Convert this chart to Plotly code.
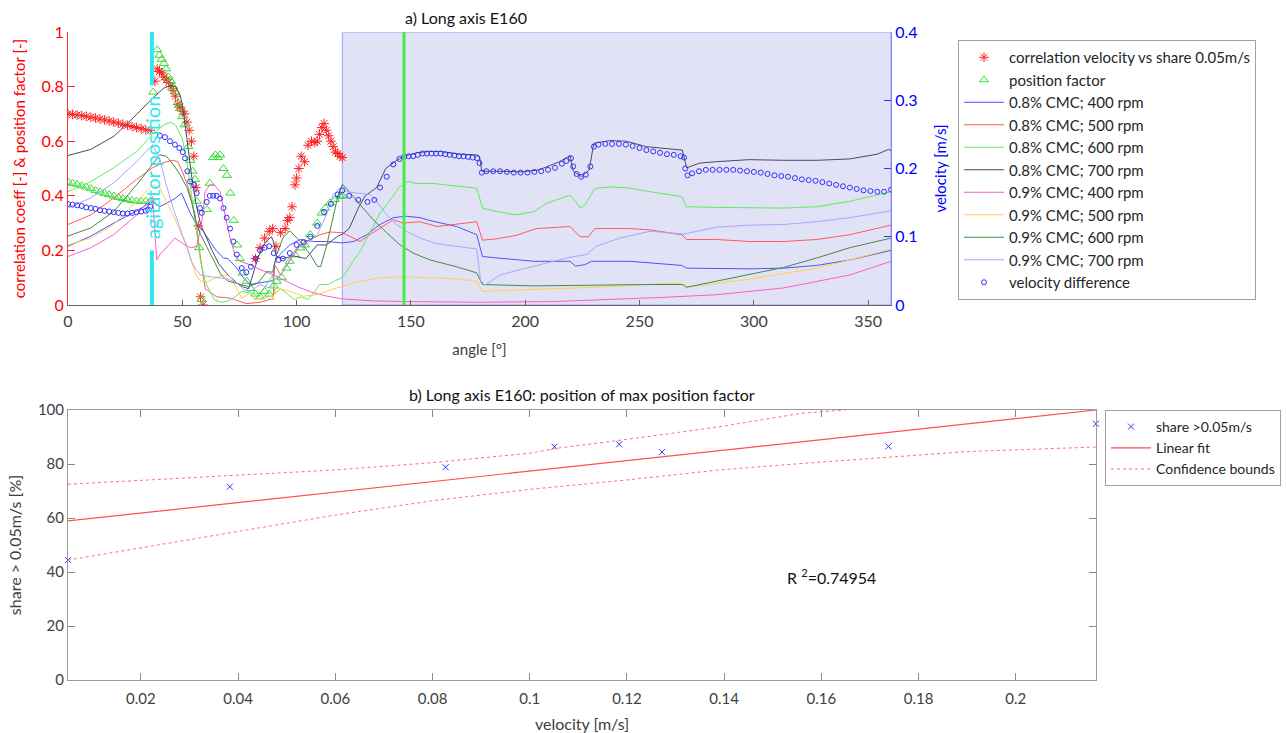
import plotly.graph_objects as go

W, H = 1286, 733
FONT = "Lato"

# ---------------- panel a) Long axis E160 ----------------
agitator_angle = 36.7
max_pos_angle = 147
region_start, region_end = 120, 360
agitator_gap = (0.2, 0.805)

corr_angle = [0, 2, 4, 6, 8, 10, 12, 14, 16, 18, 20, 22, 24, 26, 28, 30, 32, 34, 36,
              38, 39, 40, 41, 42, 43, 44, 45, 46, 47, 48, 49, 50, 51, 52, 53, 54, 55, 56, 57, 58, 59,
              82, 84, 86, 88, 89.5, 91, 93, 95, 96, 97, 98, 99.3, 100, 101, 102, 103.5, 105, 106.5,
              108, 109, 110, 111, 112, 113, 114, 115, 116, 117, 118, 119, 120]
corr_value = [0.70, 0.698, 0.696, 0.694, 0.691, 0.688, 0.685, 0.681, 0.678, 0.674, 0.67, 0.666,
              0.662, 0.658, 0.654, 0.65, 0.646, 0.642, 0.64,
              0.82, 0.865, 0.855, 0.85, 0.835, 0.825, 0.815, 0.80, 0.785, 0.765, 0.735, 0.725, 0.71,
              0.70, 0.67, 0.64, 0.60, 0.545, 0.43, 0.29, 0.03, 0.0,
              0.17, 0.21, 0.245, 0.27, 0.28, 0.215, 0.265, 0.28, 0.31, 0.32, 0.36, 0.44, 0.465, 0.5,
              0.545, 0.525, 0.585, 0.6, 0.595, 0.6, 0.625, 0.65, 0.665, 0.64, 0.62, 0.60, 0.58, 0.56,
              0.555, 0.545, 0.54]

pos_angle = [0, 2, 4, 6, 8, 10, 12, 14, 16, 18, 20, 22, 24, 26, 28, 30, 32, 34, 36,
             37.3, 39, 40, 41, 42, 43, 44, 45, 46, 47, 48, 49, 50, 51, 52.6, 53.5, 54.5, 55.6, 56.3,
             57.4, 58.5, 60.7, 62, 63.5, 64.5, 65.5, 66.5, 68, 69.5, 71, 72.5, 74, 75.2, 76.4, 78.2,
             80, 82, 84, 86, 88, 90, 91.3, 93.5, 95.6, 97, 99.3, 101.6, 103.7, 106, 109, 111, 112.5,
             114.6, 116.8, 119, 120]
pos_value = [0.45, 0.446, 0.442, 0.437, 0.432, 0.426, 0.42, 0.414, 0.409, 0.404, 0.399, 0.394,
             0.39, 0.386, 0.383, 0.381, 0.38, 0.38, 0.38,
             0.78, 0.935, 0.915, 0.9, 0.885, 0.865, 0.835, 0.82, 0.80, 0.78, 0.74, 0.72, 0.69, 0.66,
             0.58, 0.53, 0.49, 0.46, 0.38, 0.21, 0.02, 0.35, 0.446, 0.54, 0.55, 0.54, 0.55, 0.50,
             0.475, 0.41, 0.31, 0.22, 0.17, 0.117, 0.087, 0.06, 0.04, 0.03, 0.05, 0.04, 0.07, 0.087,
             0.10, 0.135, 0.16, 0.184, 0.209, 0.22, 0.258, 0.30, 0.337, 0.355, 0.374, 0.386, 0.398,
             0.40]

# velocities [m/s] of the eight runs
a_08_400 = [0, 10, 20, 30, 37, 40, 43, 46.8, 49.7, 51.2, 53.4, 56.3, 59.2, 62.1, 65, 68, 70, 73.8,
            76.7, 79.6, 84, 88.4, 89.8, 90.5, 92.7, 97, 101.6, 107.4, 113.2, 120, 125, 130.7, 136.5,
            142.3, 148, 154, 158, 170, 178.8, 181.3, 187.5, 204, 219.6, 222, 226, 229, 246, 254.6,
            268.4, 270.6, 283.7, 298, 313, 327.6, 342, 360]
v_08_400 = [0.086, 0.101, 0.12, 0.138, 0.152, 0.144, 0.149, 0.156, 0.164, 0.152, 0.135, 0.118,
            0.108, 0.093, 0.079, 0.069, 0.068, 0.054, 0.04, 0.03, 0.032, 0.035, 0.036, 0.064, 0.074,
            0.088, 0.096, 0.093, 0.093, 0.091, 0.093, 0.103, 0.118, 0.128, 0.13, 0.128, 0.124,
            0.115, 0.103, 0.071, 0.069, 0.064, 0.064, 0.057, 0.059, 0.064, 0.064, 0.062, 0.058,
            0.054, 0.053, 0.053, 0.054, 0.058, 0.066, 0.08]

a_08_500 = [0, 10, 20, 30, 37, 42, 46, 48, 50, 52.6, 55.6, 57.7, 60, 65, 71, 75, 78, 84, 88.4, 89.8,
            90.2, 93, 97, 101.6, 106, 110.3, 114.6, 120, 123, 127.7, 132, 136.5, 142.3, 146.6, 154,
            161.3, 170, 178.8, 181.3, 187.5, 196, 205, 219.6, 224, 227.6, 230.5, 246, 254.6, 268.4,
            270.6, 283.7, 298, 313, 327.6, 342, 360]
v_08_500 = [0.118, 0.132, 0.157, 0.184, 0.201, 0.209, 0.212, 0.21, 0.196, 0.172, 0.132, 0.076,
            0.024, 0.012, 0.01, 0.006, 0.002, 0.004, 0.008, 0.008, 0.06, 0.044, 0.064, 0.088, 0.096,
            0.103, 0.107, 0.106, 0.101, 0.093, 0.103, 0.113, 0.125, 0.12, 0.122, 0.115, 0.118,
            0.122, 0.095, 0.097, 0.102, 0.112, 0.115, 0.1, 0.1, 0.112, 0.112, 0.11, 0.103, 0.096,
            0.096, 0.093, 0.093, 0.096, 0.103, 0.117]

a_08_600 = [0, 10, 20, 30, 37, 42, 45, 47, 50, 52, 54, 56, 58, 60, 62, 64, 67, 70, 73, 76, 79, 82,
            85, 88, 89.5, 90.5, 93, 96, 99, 102, 105, 108, 110, 114, 117, 120, 123, 125.5, 128, 132,
            136.5, 141, 145, 148.7, 152.5, 160, 165.6, 178.8, 181.3, 187.5, 196, 204, 209.4, 219.6,
            222, 224, 226, 230.5, 238.5, 246, 254.6, 268.4, 270.6, 283.7, 313, 327.6, 342, 360]
v_08_600 = [0.166, 0.181, 0.201, 0.225, 0.25, 0.264, 0.268, 0.264, 0.244, 0.21, 0.162, 0.112,
            0.064, 0.035, 0.02, 0.008, 0.004, 0.006, 0.012, 0.02, 0.018, 0.016, 0.02, 0.036, 0.044,
            0.016, 0.024, 0.016, 0.008, 0.012, 0.008, 0.02, 0.03, 0.03, 0.036, 0.04, 0.056, 0.068,
            0.08, 0.105, 0.135, 0.154, 0.173, 0.181, 0.178, 0.178, 0.176, 0.171, 0.142, 0.137,
            0.132, 0.137, 0.149, 0.161, 0.152, 0.142, 0.146, 0.171, 0.173, 0.171, 0.166, 0.159,
            0.144, 0.143, 0.142, 0.144, 0.152, 0.166]

a_08_700 = [0, 10, 20, 30, 37, 42, 45, 47, 49, 50, 52, 54, 56, 58, 60, 63, 66, 70, 74, 77, 79, 81,
            83, 85, 87, 89, 90, 91, 94, 98.6, 104, 109, 113, 117.6, 120, 123, 127, 130, 135, 139,
            143.8, 147, 152.5, 158, 163, 171, 178.8, 180, 181, 189, 198, 206, 215, 219.6, 221,
            224.7, 228, 230, 237, 244, 253, 259, 268.7, 270.6, 276.4, 283.7, 298, 313, 327.6, 342,
            354, 359, 360]
v_08_700 = [0.219, 0.228, 0.247, 0.279, 0.303, 0.318, 0.322, 0.32, 0.308, 0.294, 0.244, 0.191,
            0.148, 0.118, 0.103, 0.08, 0.06, 0.044, 0.032, 0.026, 0.024, 0.048, 0.068, 0.084,
            0.094, 0.1, 0.092, 0.072, 0.068, 0.072, 0.068, 0.088, 0.088, 0.1, 0.104, 0.112, 0.142,
            0.16, 0.172, 0.2, 0.212, 0.218, 0.223, 0.225, 0.225, 0.221, 0.22, 0.218, 0.196, 0.196,
            0.195, 0.198, 0.21, 0.219, 0.196, 0.188, 0.198, 0.237, 0.241, 0.24, 0.232, 0.23, 0.227,
            0.201, 0.208, 0.21, 0.213, 0.212, 0.212, 0.214, 0.221, 0.228, 0.226]

a_09_400 = [0, 10, 20, 30, 37, 38.8, 40.2, 43, 46.8, 49, 52, 54, 56.3, 58.5, 60, 62, 64, 66.5, 68.7,
            70.9, 73, 75.2, 79.6, 84, 90, 95.6, 101.6, 107.4, 113.2, 120, 133.7, 148, 180, 212,
            240, 259, 283.7, 313, 342, 360]
v_09_400 = [0.071, 0.084, 0.103, 0.132, 0.159, 0.066, 0.074, 0.084, 0.098, 0.093, 0.086, 0.084,
            0.086, 0.122, 0.166, 0.176, 0.176, 0.166, 0.132, 0.098, 0.074, 0.064, 0.059, 0.052,
            0.044, 0.035, 0.025, 0.018, 0.013, 0.009, 0.006, 0.005, 0.004, 0.005, 0.008, 0.011,
            0.015, 0.025, 0.044, 0.064]

a_09_500 = [0, 10, 20, 30, 37, 40, 43, 46, 49, 52, 54, 56, 58, 61, 65, 68, 71, 73.8, 76, 79, 82, 86,
            89.5, 91, 97, 103, 109, 114.6, 120, 127.7, 136.5, 147, 158.4, 171, 179, 181, 198,
            219.6, 230, 259, 268.7, 270.6, 283.7, 298, 313, 327.6, 342, 360]
v_09_500 = [0.088, 0.098, 0.118, 0.152, 0.176, 0.172, 0.152, 0.132, 0.108, 0.088, 0.064, 0.044,
            0.035, 0.034, 0.04, 0.044, 0.042, 0.025, 0.01, 0.016, 0.008, 0.012, 0.008, 0.025, 0.02,
            0.013, 0.015, 0.022, 0.027, 0.035, 0.04, 0.041, 0.04, 0.038, 0.035, 0.02, 0.022, 0.024,
            0.026, 0.031, 0.032, 0.026, 0.032, 0.038, 0.046, 0.054, 0.066, 0.082]

a_09_600 = [0, 10, 20, 30, 37, 40, 43, 46, 49, 52, 54, 56, 58, 61, 64, 67, 70, 73, 76, 79, 83, 87,
            89.5, 91.3, 94, 97, 101.6, 106, 109, 110.5, 113.2, 116, 118.2, 120, 123, 127.7, 133.5,
            139.4, 145.2, 151, 158.4, 170, 178.8, 181.3, 204, 254.6, 268.7, 270.6, 283.7, 298, 313,
            327.6, 342, 360]
v_09_600 = [0.101, 0.113, 0.137, 0.176, 0.206, 0.22, 0.218, 0.206, 0.191, 0.172, 0.152, 0.122,
            0.103, 0.084, 0.064, 0.044, 0.035, 0.032, 0.03, 0.027, 0.032, 0.049, 0.048, 0.074,
            0.098, 0.109, 0.093, 0.074, 0.057, 0.056, 0.088, 0.128, 0.162, 0.177, 0.166, 0.147,
            0.125, 0.106, 0.088, 0.076, 0.066, 0.056, 0.047, 0.03, 0.028, 0.03, 0.03, 0.026, 0.035,
            0.044, 0.055, 0.069, 0.084, 0.098]

a_09_700 = [0, 10, 20, 30, 37, 40, 43, 46, 49, 52, 54, 56, 58, 61, 66, 70, 74, 77, 79.6, 84, 88, 90,
            94, 100, 104, 109, 113, 116, 119, 122, 126.3, 132, 135, 139.4, 143.8, 148, 154, 161,
            178.8, 180.5, 182.3, 189, 198, 206.4, 219.6, 227, 231, 241.4, 254.6, 269.4, 283.7, 298,
            313, 327.6, 342, 360]
v_09_700 = [0.142, 0.157, 0.179, 0.21, 0.235, 0.215, 0.176, 0.142, 0.113, 0.084, 0.064, 0.052,
            0.044, 0.042, 0.04, 0.038, 0.032, 0.022, 0.02, 0.03, 0.025, 0.035, 0.049, 0.084, 0.088,
            0.103, 0.132, 0.162, 0.172, 0.166, 0.164, 0.162, 0.152, 0.132, 0.118, 0.108, 0.098,
            0.09, 0.082, 0.036, 0.029, 0.044, 0.052, 0.059, 0.07, 0.074, 0.086, 0.098, 0.108,
            0.104, 0.114, 0.117, 0.118, 0.122, 0.128, 0.138]

diff_angle = [0, 2, 4, 6, 8, 10, 12, 14, 16, 18, 20, 22, 24, 26, 28, 30, 32, 34, 35, 36,
              40.2, 42.4, 44.6, 46.8, 48.7, 50.2, 51.2, 52.2, 53.4, 55.1, 56.3, 57.7, 58.5, 60.7, 62,
              63.5, 65, 66.5, 68, 69.4, 70.9, 72.3, 73.8, 76, 78, 80, 82, 84, 86, 88, 90, 92, 94, 97,
              100, 103, 106, 109, 112, 115, 118, 120, 123, 127, 131, 134, 136.5, 139.4, 142.3, 145,
              147, 149, 151, 153, 155, 157, 159, 161, 163, 165, 167, 169, 171, 173, 175, 177, 179,
              180, 181, 183, 186, 189, 192, 195, 198, 201, 204, 207, 210, 213, 216, 218, 220, 221,
              222.5, 224.5, 226.5, 228.5, 230, 232, 235, 238, 241, 244, 247, 250, 253, 256, 259, 262,
              265, 268, 269.5, 270, 271, 273, 276, 279, 282, 285, 288, 291, 294, 297, 300, 303, 306,
              309, 312, 315, 318, 321, 324, 327, 330, 333, 336, 339, 342, 345, 348, 351, 354, 357, 360]
diff_value = [0.148, 0.147, 0.146, 0.145, 0.143, 0.142, 0.141, 0.139, 0.138, 0.137, 0.136, 0.135,
              0.134, 0.134, 0.135, 0.136, 0.137, 0.138, 0.14, 0.144,
              0.248, 0.246, 0.24, 0.235, 0.23, 0.224, 0.215, 0.196, 0.181, 0.176, 0.164, 0.142,
              0.135, 0.151, 0.16, 0.16, 0.16, 0.156, 0.142, 0.128, 0.112, 0.093, 0.074, 0.054,
              0.048, 0.056, 0.068, 0.08, 0.084, 0.086, 0.076, 0.066, 0.068, 0.076, 0.088, 0.092,
              0.1, 0.116, 0.136, 0.148, 0.162, 0.168, 0.16, 0.154, 0.151, 0.154, 0.172, 0.188,
              0.206, 0.214, 0.217, 0.218, 0.218, 0.22, 0.222, 0.222, 0.222, 0.222, 0.222, 0.221,
              0.22, 0.219, 0.218, 0.218, 0.217, 0.216, 0.215, 0.208, 0.194, 0.196, 0.196, 0.196,
              0.195, 0.194, 0.194, 0.194, 0.195, 0.196, 0.198, 0.201, 0.207, 0.211, 0.215, 0.203,
              0.192, 0.188, 0.191, 0.203, 0.232, 0.235, 0.236, 0.236, 0.236, 0.235, 0.233, 0.23,
              0.227, 0.225, 0.223, 0.221, 0.22, 0.218, 0.216, 0.2, 0.19, 0.193, 0.196, 0.198, 0.198,
              0.198, 0.198, 0.198, 0.197, 0.196, 0.195, 0.194, 0.192, 0.19, 0.189, 0.188, 0.186,
              0.184, 0.183, 0.182, 0.18, 0.178, 0.176, 0.174, 0.172, 0.17, 0.168, 0.167, 0.166,
              0.166, 0.169]

runs = [
    ("0.8% CMC; 400 rpm", a_08_400, v_08_400, "#5050ff"),
    ("0.8% CMC; 500 rpm", a_08_500, v_08_500, "#ff5a5a"),
    ("0.8% CMC; 600 rpm", a_08_600, v_08_600, "#5aee5a"),
    ("0.8% CMC; 700 rpm", a_08_700, v_08_700, "#4a4a66"),
    ("0.9% CMC; 400 rpm", a_09_400, v_09_400, "#ff5acb"),
    ("0.9% CMC; 500 rpm", a_09_500, v_09_500, "#ffd050"),
    ("0.9% CMC; 600 rpm", a_09_600, v_09_600, "#448a44"),
    ("0.9% CMC; 700 rpm", a_09_700, v_09_700, "#a4a8ff"),
]

# ---------------- panel b) regression ----------------
share_velocity = [0.005, 0.0383, 0.0827, 0.1051, 0.1184, 0.1272, 0.1738, 0.2165]
share_percent = [44.4, 71.6, 78.8, 86.4, 87.3, 84.4, 86.5, 94.9]
fit_x = [0.005, 0.2165]
fit_y = [58.9, 100]
upper_x = [0.005, 0.04, 0.06, 0.08, 0.1, 0.1055, 0.122, 0.139, 0.156, 0.165]
upper_y = [72.5, 76, 77.8, 80.5, 84, 85.8, 89.6, 93.8, 98.8, 100]
lower_x = [0.005, 0.04, 0.06, 0.08, 0.1, 0.12, 0.139, 0.156, 0.173, 0.19, 0.2165]
lower_y = [44.4, 54.9, 61.1, 66.4, 70.6, 74.1, 77.8, 80.2, 82.5, 84.6, 86.3]
r_squared = 0.74954

fig = go.Figure()

fig.add_trace(go.Scatter(
    x=corr_angle, y=corr_value, mode="markers", name="correlation velocity vs share 0.05m/s",
    marker=dict(symbol="asterisk-open", size=8, color="#ff2020", line=dict(width=1, color="#ff2020")),
    xaxis="x", yaxis="y", legend="legend"))
fig.add_trace(go.Scatter(
    x=pos_angle, y=pos_value, mode="markers", name="position factor",
    marker=dict(symbol="triangle-up-open", size=8, color="#33dd33", line=dict(width=1, color="#33dd33")),
    xaxis="x", yaxis="y", legend="legend"))
for name, ang, vel, col in runs:
    fig.add_trace(go.Scatter(
        x=ang, y=vel, mode="lines", name=name, line=dict(color=col, width=1),
        xaxis="x", yaxis="y2", legend="legend"))
fig.add_trace(go.Scatter(
    x=diff_angle, y=diff_value, mode="markers", name="velocity difference",
    marker=dict(symbol="circle-open", size=5, color="#3030ff", line=dict(width=1, color="#3030ff")),
    xaxis="x", yaxis="y2", legend="legend"))

fig.add_trace(go.Scatter(
    x=share_velocity, y=share_percent, mode="markers", name="share >0.05m/s", cliponaxis=False,
    marker=dict(symbol="x-thin-open", size=6, color="#3333ff", line=dict(width=1, color="#3333ff")),
    xaxis="x2", yaxis="y3", legend="legend2"))
fig.add_trace(go.Scatter(
    x=fit_x, y=fit_y, mode="lines", name="Linear fit", line=dict(color="#ff5050", width=1.2),
    xaxis="x2", yaxis="y3", legend="legend2"))
fig.add_trace(go.Scatter(
    x=upper_x, y=upper_y, mode="lines", name="Confidence bounds",
    line=dict(color="#ff7070", width=1, dash="dot"),
    xaxis="x2", yaxis="y3", legend="legend2"))
fig.add_trace(go.Scatter(
    x=lower_x, y=lower_y, mode="lines", name="Confidence bounds", showlegend=False,
    line=dict(color="#ff7070", width=1, dash="dot"),
    xaxis="x2", yaxis="y3", legend="legend2"))

top_dom = [1 - 305 / H, 1 - 32 / H]
bot_dom = [1 - 680 / H, 1 - 410 / H]
dark = "#262626"

fig.update_layout(
    width=W, height=H, margin=dict(l=0, r=0, t=0, b=0, autoexpand=False),
    paper_bgcolor="white", plot_bgcolor="white",
    font=dict(family=FONT, size=15, color=dark),
    xaxis=dict(domain=[68 / W, 891 / W], range=[0, 360], anchor="y", automargin=False,
               tickvals=[0, 50, 100, 150, 200, 250, 300, 350], ticks="inside", ticklen=5,
               tickcolor="#666", showline=True, linecolor="#666", linewidth=1, showgrid=False,
               zeroline=False, tickfont=dict(size=16, color="#404040"), ticklabelstandoff=2,
               title=dict(text="angle [°]", font=dict(size=15, color="#404040"), standoff=15)),
    yaxis=dict(domain=top_dom, range=[0, 1], anchor="x", automargin=False,
               tickvals=[0, 0.2, 0.4, 0.6, 0.8, 1],
               ticks="inside", ticklen=7, tickcolor="#ff2020", showline=True, linecolor="#ff3030",
               showgrid=False, zeroline=False, tickfont=dict(size=16, color="#ff0000"),
               title=dict(text="correlation coeff [-] & position factor [-]",
                          font=dict(size=15, color="#ff0000"), standoff=12)),
    yaxis2=dict(overlaying="y", side="right", anchor="x", range=[0, 0.4], automargin=False,
                tickvals=[0, 0.1, 0.2, 0.3, 0.4], ticks="inside", ticklen=7, tickcolor="#3030ff",
                showline=True, linecolor="#8080ff", showgrid=False, zeroline=False,
                tickfont=dict(size=16, color="#0000ff"),
                title=dict(text="velocity [m/s]", font=dict(size=15, color="#0000ff"), standoff=18)),
    xaxis2=dict(domain=[68 / W, 1096 / W], range=[0.005, 0.2165], anchor="y3", automargin=False,
                tickvals=[0.02, 0.04, 0.06, 0.08, 0.1, 0.12, 0.14, 0.16, 0.18, 0.2],
                ticks="inside", ticklen=7, tickcolor="#888", showline=True, mirror="ticks",
                linecolor="#999", showgrid=False, zeroline=False, ticklabelstandoff=5,
                tickfont=dict(size=15, color="#404040"),
                title=dict(text="velocity [m/s]", font=dict(size=16, color="#404040"), standoff=13)),
    yaxis3=dict(domain=bot_dom, range=[0, 100], anchor="x2", automargin=False,
                tickvals=[0, 20, 40, 60, 80, 100],
                ticks="inside", ticklen=7, tickcolor="#888", showline=True, mirror="ticks",
                linecolor="#999", showgrid=False, zeroline=False,
                tickfont=dict(size=15, color="#404040"),
                title=dict(text="share > 0.05m/s [%]", font=dict(size=16, color="#404040"), standoff=12)),
    legend=dict(x=958 / W, y=1 - 40 / H, xanchor="left", yanchor="top", bgcolor="white",
                bordercolor="#a0a0a0", borderwidth=1, font=dict(size=15, color=dark),
                itemwidth=40, tracegroupgap=0),
    legend2=dict(x=1105 / W, y=1 - 410 / H, xanchor="left", yanchor="top", bgcolor="white",
                 bordercolor="#a0a0a0", borderwidth=1, font=dict(size=14, color=dark),
                 itemwidth=40, tracegroupgap=0),
    shapes=[
        dict(type="rect", xref="x", yref="y", x0=region_start, x1=region_end, y0=0, y1=1,
             fillcolor="#e2e2f6", line=dict(color="#a0a0ff", width=1), layer="below"),
        dict(type="line", xref="x", yref="y", x0=agitator_angle, x1=agitator_angle, y0=0,
             y1=agitator_gap[0], line=dict(color="#33e6ee", width=4)),
        dict(type="line", xref="x", yref="y", x0=agitator_angle, x1=agitator_angle,
             y0=agitator_gap[1], y1=1, line=dict(color="#33e6ee", width=4)),
        dict(type="line", xref="x", yref="y", x0=max_pos_angle, x1=max_pos_angle, y0=0, y1=1,
             line=dict(color="#44ee44", width=3)),
    ],
    annotations=[
        dict(text="agitator position", x=agitator_angle, y=0.505, xref="x", yref="y",
             textangle=-90, showarrow=False, xanchor="center", yanchor="middle",
             font=dict(size=20, color="#33e6ee")),
        dict(text="a) Long axis E160", x=466 / W, y=1 - 18 / H, xref="paper", yref="paper",
             xanchor="center", yanchor="middle", showarrow=False, font=dict(size=16, color="#111")),
        dict(text="b) Long axis E160: position of max position factor", x=582 / W,
             y=1 - 394 / H, xref="paper", yref="paper", xanchor="center", yanchor="middle",
             showarrow=False, font=dict(size=16, color="#111")),
        dict(text="R <sup>2</sup>=" + f"{r_squared:.5f}", x=0.1525, y=38.5, xref="x2", yref="y3",
             xanchor="left", yanchor="middle", showarrow=False, font=dict(size=16, color="#111")),
    ],
)

fig.write_html("out.html")
